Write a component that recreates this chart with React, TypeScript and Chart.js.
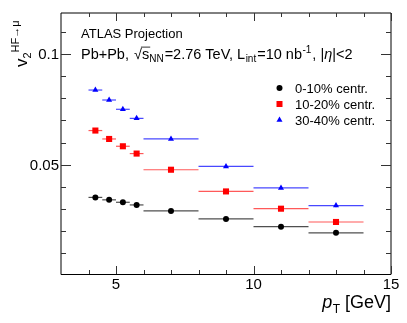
import React, { useEffect, useRef } from 'react';
import { Chart, registerables } from 'chart.js';

Chart.register(...registerables);

// ---- data ----
const ptCenters = [4.25, 4.75, 5.25, 5.75, 7, 9, 11, 13];
const ptHalfWidths = [0.25, 0.25, 0.25, 0.25, 1, 1, 1, 1];

const v2Cent0010 = [0.0352, 0.0341, 0.033, 0.0318, 0.0291, 0.0255, 0.022, 0.0192];
const v2Cent1020 = [0.0654, 0.0616, 0.0583, 0.055, 0.0477, 0.0379, 0.0301, 0.0241];
const v2Cent3040 = [0.0837, 0.0792, 0.075, 0.0709, 0.0616, 0.0492, 0.0395, 0.0315];

const statErr0010 = [0.0002, 0.0002, 0.0002, 0.0002, 0.0003, 0.0004, 0.0005, 0.0007];
const statErr1020 = [0.0002, 0.0002, 0.0002, 0.0002, 0.0003, 0.0004, 0.0005, 0.0007];
const statErr3040 = [0.0003, 0.0003, 0.0003, 0.0003, 0.0004, 0.0005, 0.0006, 0.0008];

const seriesLabels = ['0-10% centr.', '10-20% centr.', '30-40% centr.'];
const seriesColors = ['#000000', '#ff0000', '#0000ff'];
const seriesEdge = ['rgba(60,60,60,0.9)', 'rgba(255,60,60,0.85)', 'rgba(40,40,255,0.85)'];

const xMin = 3;
const xMax = 15;
const yMin = 0.0006;
const yMax = 0.1185;
const xMajorTicks = [5, 10, 15];
const xTickLabels = ['5', '10', '15'];
const xMinorTicks = [4, 6, 7, 8, 9, 11, 12, 13, 14];
const yMajorTicks = [0.05, 0.1];
const yTickLabels = ['0.05', '0.1'];
const yMinorTicks = [0.01, 0.02, 0.03, 0.04, 0.06, 0.07, 0.08, 0.09, 0.11];

const FAMILY = '"Liberation Sans", Arial, Helvetica, sans-serif';

type Seg = { t: string; s: number; dy?: number; it?: boolean; gap?: number; over?: boolean };

function drawRich(ctx: CanvasRenderingContext2D, x0: number, y: number, segs: Seg[]) {
  let x = x0;
  for (const g of segs) {
    ctx.font = `${g.it ? 'italic ' : ''}${g.s}px ${FAMILY}`;
    const w = ctx.measureText(g.t).width;
    ctx.fillText(g.t, x, y + (g.dy || 0));
    if (g.over) {
      ctx.save();
      ctx.lineWidth = 1;
      ctx.beginPath();
      ctx.moveTo(x - 1, y - g.s * 0.82);
      ctx.lineTo(x + w + 1, y - g.s * 0.82);
      ctx.stroke();
      ctx.restore();
    }
    x += w + (g.gap || 0);
  }
  return x;
}

function drawMarker(ctx: CanvasRenderingContext2D, kind: number, x: number, y: number) {
  ctx.fillStyle = seriesColors[kind];
  ctx.beginPath();
  if (kind === 0) {
    ctx.arc(x, y, 3, 0, Math.PI * 2);
  } else if (kind === 1) {
    ctx.rect(x - 3, y - 3, 6, 6);
  } else {
    ctx.moveTo(x, y - 3.5);
    ctx.lineTo(x + 3.03, y + 1.75);
    ctx.lineTo(x - 3.03, y + 1.75);
    ctx.closePath();
  }
  ctx.fill();
}

const seriesValues = [v2Cent0010, v2Cent1020, v2Cent3040];
const seriesErrs = [statErr0010, statErr1020, statErr3040];

const atlasPlugin = {
  id: 'atlasDecor',
  beforeDatasetsDraw(chart: any) {
    const ctx: CanvasRenderingContext2D = chart.ctx;
    const xs = chart.scales.x;
    const ys = chart.scales.y;
    ctx.save();
    for (let k = 0; k < 3; k++) {
      ctx.strokeStyle = seriesEdge[k];
      ctx.lineWidth = 1.2;
      const vals = seriesValues[k];
      const errs = seriesErrs[k];
      for (let i = 0; i < ptCenters.length; i++) {
        const y = ys.getPixelForValue(vals[i]);
        const xl = xs.getPixelForValue(ptCenters[i] - ptHalfWidths[i]);
        const xr = xs.getPixelForValue(ptCenters[i] + ptHalfWidths[i]);
        const xc = xs.getPixelForValue(ptCenters[i]);
        ctx.beginPath();
        ctx.moveTo(xl, y);
        ctx.lineTo(xr, y);
        ctx.stroke();
        ctx.beginPath();
        ctx.moveTo(xc, ys.getPixelForValue(vals[i] - errs[i]));
        ctx.lineTo(xc, ys.getPixelForValue(vals[i] + errs[i]));
        ctx.stroke();
      }
    }
    ctx.restore();
  },
  afterDraw(chart: any) {
    const ctx: CanvasRenderingContext2D = chart.ctx;
    const a = chart.chartArea;
    const xs = chart.scales.x;
    const ys = chart.scales.y;
    ctx.save();
    // frame
    ctx.strokeStyle = '#000';
    ctx.lineWidth = 1;
    ctx.beginPath();
    ctx.moveTo(a.left, a.top);
    ctx.lineTo(a.right, a.top);
    ctx.lineTo(a.right, a.bottom + 0.5);
    ctx.lineTo(a.left, a.bottom + 0.5);
    ctx.closePath();
    ctx.stroke();
    // ticks
    ctx.strokeStyle = '#333';
    const yt = (v: number, len: number) => {
      const y = Math.round(ys.getPixelForValue(v)) + 0.5;
      ctx.beginPath();
      ctx.moveTo(a.left, y);
      ctx.lineTo(a.left + len, y);
      ctx.moveTo(a.right, y);
      ctx.lineTo(a.right - len, y);
      ctx.stroke();
    };
    yMinorTicks.forEach((v) => yt(v, 5));
    yMajorTicks.forEach((v) => yt(v, 10));
    const xt = (v: number, len: number) => {
      const x = Math.round(xs.getPixelForValue(v)) + 0.5;
      ctx.beginPath();
      ctx.moveTo(x, a.bottom);
      ctx.lineTo(x, a.bottom - len);
      ctx.moveTo(x, a.top);
      ctx.lineTo(x, a.top + len);
      ctx.stroke();
    };
    xMinorTicks.forEach((v) => xt(v, 4));
    xMajorTicks.forEach((v) => xt(v, 8));

    // tick labels
    ctx.fillStyle = '#000';
    ctx.font = `15px ${FAMILY}`;
    ctx.textAlign = 'right';
    ctx.textBaseline = 'middle';
    yMajorTicks.forEach((v, i) => ctx.fillText(yTickLabels[i], a.left - 2, ys.getPixelForValue(v) + 1));
    ctx.textAlign = 'center';
    ctx.textBaseline = 'top';
    xMajorTicks.forEach((v, i) => ctx.fillText(xTickLabels[i], xs.getPixelForValue(v), a.bottom + 3));

    // x title (right aligned)
    ctx.textAlign = 'left';
    ctx.textBaseline = 'alphabetic';
    const xTitle: Seg[] = [
      { t: 'p', s: 18, it: true, gap: 0.5 },
      { t: 'T', s: 12, dy: 5, gap: 0 },
      { t: ' [GeV]', s: 18 },
    ];
    let w = 0;
    for (const g of xTitle) {
      ctx.font = `${g.it ? 'italic ' : ''}${g.s}px ${FAMILY}`;
      w += ctx.measureText(g.t).width + (g.gap || 0);
    }
    drawRich(ctx, a.right - w, 308, xTitle);

    // y title (rotated)
    ctx.save();
    ctx.translate(27, 67);
    ctx.rotate(-Math.PI / 2);
    drawRich(ctx, 0, 0, [
      { t: 'v', s: 17 },
      { t: '2', s: 11, dy: 4 },
      { t: 'HF\u2192\u03bc', s: 11, dy: -8 },
    ]);
    ctx.restore();

    // annotation text
    ctx.font = `13px ${FAMILY}`;
    ctx.fillText('ATLAS Projection', 81, 38);
    drawRich(ctx, 81, 59, [
      { t: 'Pb+Pb, ', s: 14.5, gap: 1 },
      { t: '\u221a', s: 14.5 },
      { t: 's', s: 14.5, over: true },
      { t: 'NN', s: 10, dy: 3, gap: 1 },
      { t: '=2.76 TeV, L', s: 14.5, gap: 0.5 },
      { t: 'int', s: 10, dy: 3, gap: 1 },
      { t: '=10 nb', s: 14.5, gap: 0.5 },
      { t: '-1', s: 10, dy: -6, gap: 1 },
      { t: ', |', s: 14.5 },
      { t: '\u03b7', s: 14.5, it: true },
      { t: '|<2', s: 14.5 },
    ]);

    // legend
    const legY = [88, 104, 120];
    ctx.font = `13px ${FAMILY}`;
    ctx.textBaseline = 'middle';
    for (let k = 0; k < 3; k++) {
      drawMarker(ctx, k, 279.5, legY[k]);
      ctx.fillStyle = '#000';
      ctx.fillText(seriesLabels[k], 295, legY[k] + 1);
    }
    ctx.restore();
  },
};

export default function App() {
  const ref = useRef<HTMLCanvasElement | null>(null);
  useEffect(() => {
    document.body.style.margin = '0';
    const canvas = ref.current;
    if (!canvas) return;
    const pointStyles = ['circle', 'rect', 'triangle'];
    const radii = [3, 4.3, 3.5];
    const chart = new Chart(canvas, {
      type: 'scatter',
      data: {
        datasets: seriesValues.map((vals, k) => ({
          label: seriesLabels[k],
          data: ptCenters.map((x, i) => ({ x, y: vals[i] })),
          pointStyle: pointStyles[k] as any,
          pointRadius: radii[k],
          pointBackgroundColor: seriesColors[k],
          pointBorderColor: seriesColors[k],
          pointBorderWidth: 0,
          showLine: false,
        })),
      },
      options: {
        responsive: false,
        animation: false,
        devicePixelRatio: 1,
        layout: { padding: { left: 61, top: 13, right: 16, bottom: 49 } },
        plugins: { legend: { display: false }, tooltip: { enabled: false }, title: { display: false } },
        scales: {
          x: { type: 'linear', min: xMin, max: xMax, display: false },
          y: { type: 'linear', min: yMin, max: yMax, display: false },
        },
      },
      plugins: [atlasPlugin],
    });
    return () => chart.destroy();
  }, []);
  return <canvas ref={ref} width={407} height={323} style={{ display: 'block' }} />;
}
